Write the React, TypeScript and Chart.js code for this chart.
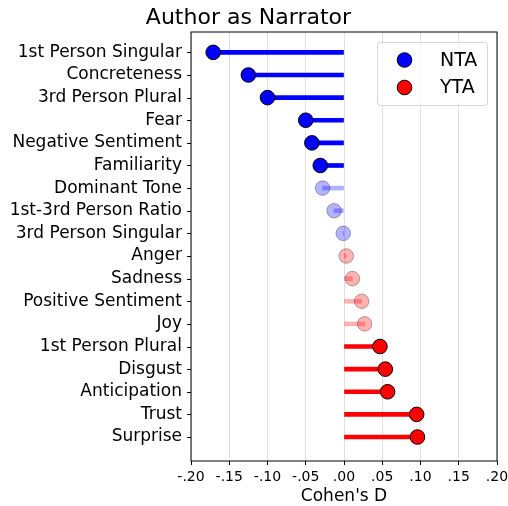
import React, { useEffect, useRef } from 'react';
import { Chart, registerables } from 'chart.js';

Chart.register(...registerables);

const categories = [
  '1st Person Singular',
  'Concreteness',
  '3rd Person Plural',
  'Fear',
  'Negative Sentiment',
  'Familiarity',
  'Dominant Tone',
  '1st-3rd Person Ratio',
  '3rd Person Singular',
  'Anger',
  'Sadness',
  'Positive Sentiment',
  'Joy',
  '1st Person Plural',
  'Disgust',
  'Anticipation',
  'Trust',
  'Surprise',
];
const cohensD = [
  -0.171, -0.125, -0.1, -0.05, -0.042, -0.031, -0.028, -0.013, -0.001,
  0.003, 0.011, 0.023, 0.027, 0.047, 0.054, 0.057, 0.095, 0.096,
];
const significant = [
  true, true, true, true, true, true, false, false, false,
  false, false, false, false, true, true, true, true, true,
];
const seriesLabels = ['NTA', 'YTA'];
const chartTitle = 'Author as Narrator';
const xAxisTitle = "Cohen's D";

const FONT = "'DejaVu Sans', sans-serif";
const SOLID = { NTA: 'rgb(0,0,255)', YTA: 'rgb(255,0,0)' } as Record<string, string>;
const FADED = { NTA: 'rgba(0,0,255,0.3)', YTA: 'rgba(255,0,0,0.3)' } as Record<string, string>;

function groupOf(v: number) {
  return v < 0 ? 'NTA' : 'YTA';
}
function fillFor(i: number) {
  const g = groupOf(cohensD[i]);
  return significant[i] ? SOLID[g] : FADED[g];
}
function edgeFor(i: number) {
  return significant[i] ? 'rgb(0,0,0)' : 'rgba(0,0,0,0.3)';
}

const framePlugin = {
  id: 'frame',
  afterDatasetsDraw(chart: any) {
    const { ctx, chartArea: a } = chart;
    ctx.save();
    ctx.strokeStyle = '#000';
    ctx.lineWidth = 1;
    ctx.strokeRect(a.left, a.top, a.right - a.left, a.bottom - a.top);
    // y tick marks (outside, left)
    const ys = chart.scales.y;
    ctx.beginPath();
    ys.ticks.forEach((t: any) => {
      const py = Math.round(ys.getPixelForValue(t.value)) + 0.5;
      ctx.moveTo(a.left - 4, py);
      ctx.lineTo(a.left, py);
    });
    ctx.stroke();
    ctx.restore();
  },
};

const legendPlugin = {
  id: 'boxLegend',
  afterDraw(chart: any) {
    const { ctx, chartArea: a } = chart;
    const w = 110;
    const h = 63;
    const left = a.right - 10 - w;
    const top = a.top + 10;
    ctx.save();
    ctx.fillStyle = 'rgba(255,255,255,0.8)';
    ctx.strokeStyle = 'rgba(204,204,204,0.8)';
    ctx.lineWidth = 1;
    ctx.beginPath();
    (ctx as any).roundRect(left + 0.5, top + 0.5, w, h, 3);
    ctx.fill();
    ctx.stroke();
    const items = chart.data.datasets.filter((d: any) => d.legendColor);
    items.forEach((d: any, k: number) => {
      const cy = top + 18 + k * 27.5;
      ctx.beginPath();
      ctx.arc(left + 27.5, cy, 7.3, 0, Math.PI * 2);
      ctx.fillStyle = d.legendColor;
      ctx.fill();
      ctx.strokeStyle = '#000';
      ctx.lineWidth = 1;
      ctx.stroke();
      ctx.fillStyle = '#000';
      ctx.font = `19px ${FONT}`;
      ctx.textBaseline = 'middle';
      ctx.textAlign = 'left';
      ctx.fillText(d.label, left + 63, cy + 1);
    });
    ctx.restore();
  },
};

export default function App() {
  const ref = useRef<HTMLCanvasElement | null>(null);

  useEffect(() => {
    if (!ref.current) return;
    const idx = categories.map((_, i) => i);
    const stems = {
      type: 'bar' as const,
      label: 'stems',
      indexAxis: 'y' as const,
      data: idx.map((i) => ({ y: i, x: [0, cohensD[i]] })),
      backgroundColor: idx.map(fillFor),
      borderWidth: 0,
      barThickness: 4,
      order: 5,
    };
    const pointSets = seriesLabels.map((lab) => {
      const members = idx.filter((i) => groupOf(cohensD[i]) === lab);
      return {
        type: 'scatter' as const,
        label: lab,
        legendColor: SOLID[lab],
        data: members.map((i) => ({ x: cohensD[i], y: i })),
        pointBackgroundColor: members.map(fillFor),
        pointBorderColor: members.map(edgeFor),
        pointBorderWidth: 1,
        pointRadius: 7.3,
        pointHoverRadius: 7.3,
        order: 1,
      };
    });

    const chart = new Chart(ref.current, {
      type: 'bar',
      data: { datasets: [stems as any, ...(pointSets as any)] },
      options: {
        animation: false,
        responsive: false,
        devicePixelRatio: 1,
        indexAxis: 'y',
        layout: { padding: { left: 0, right: 11, top: 0, bottom: 0 } },
        plugins: {
          legend: { display: false },
          tooltip: { enabled: false },
          title: {
            display: true,
            text: chartTitle,
            color: '#000',
            font: { family: FONT, size: 22, weight: 'normal' },
            padding: { top: 5, bottom: 0.6 },
          },
        },
        scales: {
          x: {
            type: 'linear',
            position: 'bottom',
            min: -0.2,
            max: 0.2,
            offset: false,
            grid: {
              display: true,
              offset: false,
              color: 'rgba(0,0,0,0.12)',
              tickColor: '#000',
              tickLength: 4,
              drawOnChartArea: true,
            },
            border: { display: false },
            ticks: {
              stepSize: 0.05,
              color: '#000',
              font: { family: FONT, size: 14 },
              padding: 4.3,
              maxRotation: 0,
              callback: (v: any) => Number(v).toFixed(2).replace('0.', '.'),
            },
            title: {
              display: true,
              text: xAxisTitle,
              color: '#000',
              font: { family: FONT, size: 17, lineHeight: 1.15 },
              padding: { top: 0, bottom: 0 },
            },
            afterFit: (s: any) => {
              s.height = 45;
              s.paddingLeft = 0;
              s.paddingRight = 0;
            },
          },
          y: {
            type: 'linear',
            position: 'left',
            reverse: true,
            offset: false,
            min: -0.9,
            max: 18.06,
            grid: {
              display: false,
            },
            border: { display: false },
            afterBuildTicks: (s: any) => {
              s.ticks = categories.map((_, i) => ({ value: i }));
            },
            ticks: {
              color: '#000',
              font: { family: FONT, size: 17 },
              padding: 1,
              autoSkip: false,
              callback: (v: any) => categories[Number(v)] ?? '',
            },
            afterFit: (s: any) => {
              s.width = 191;
              s.paddingTop = 0;
              s.paddingBottom = 0;
            },
          },
        },
      } as any,
      plugins: [framePlugin, legendPlugin],
    });
    return () => chart.destroy();
  }, []);

  return (
    <div style={{ position: 'fixed', left: 0, top: 0, width: 508, height: 506, background: '#fff' }}>
      <canvas ref={ref} width={508} height={506} style={{ display: 'block' }} />
    </div>
  );
}
